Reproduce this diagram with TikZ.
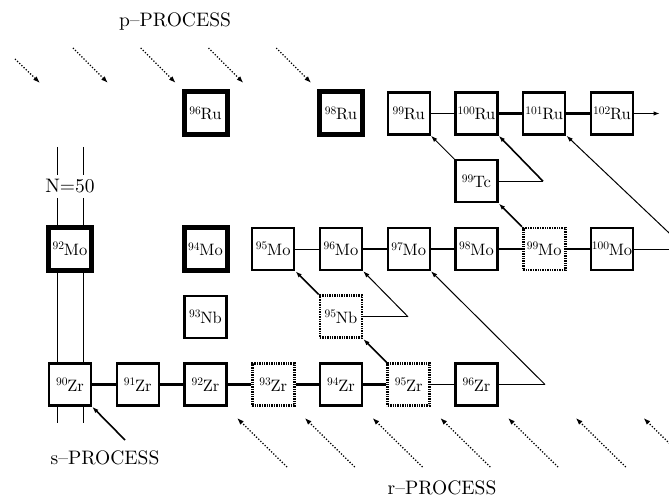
\documentclass[tikz,border=0pt]{standalone}
\usepackage{fontspec}
\setmainfont{lmroman10-regular.otf}
\usetikzlibrary{arrows.meta}
\newcommand\iso[2]{{\fontsize{16.5}{18}\selectfont\raisebox{5.5pt}{\fontsize{11.5}{12}\selectfont #1}\kern-0.3pt#2}}
\begin{document}
\begin{tikzpicture}[x=1pt,y=-1pt,
  box/.style={draw, line width=2.4pt, fill=white, minimum size=42pt, inner sep=0pt},
  stable/.style={box, line width=5pt, minimum size=43pt},
  unst/.style={box, line width=2.6pt, dash pattern=on 1.4pt off 1.0pt},
  thk/.style={line width=2.2pt},
  med/.style={line width=1.6pt},
  thn/.style={line width=1.0pt},
  arr/.style={-{Latex[length=6.5pt,width=4.5pt]}},
  dots/.style={line width=1.3pt, dash pattern=on 1.2pt off 1.8pt, -{Latex[length=7pt,width=5pt]}},
  lbl/.style={font=\fontsize{19.5}{22}\selectfont, inner sep=0pt}]
\useasboundingbox (0,0) rectangle (669,497);
\clip (0,0) rectangle (669,497);

% N=50 lines
\draw[thn] (57,147) -- (57,175) (83,147) -- (83,175) (57,198) -- (57,423) (83,198) -- (83,423);
\node[lbl] (n50) at (70,186) {N=50};

% Zr row
\node[box]  (zr90) at (70,384.5)     {\iso{90}{Zr}};
\node[box]  (zr91) at (137.75,384.5) {\iso{91}{Zr}};
\node[box]  (zr92) at (205.5,384.5)  {\iso{92}{Zr}};
\node[unst] (zr93) at (273.25,384.5) {\iso{93}{Zr}};
\node[box]  (zr94) at (341,384.5)    {\iso{94}{Zr}};
\node[unst] (zr95) at (408.75,384.5) {\iso{95}{Zr}};
\node[box]  (zr96) at (476.5,384.5)  {\iso{96}{Zr}};
% Nb row
\node[box]  (nb93) at (205.5,316.75) {\iso{93}{Nb}};
\node[unst] (nb95) at (341,316.75)   {\iso{95}{Nb}};
% Mo row
\node[stable] (mo92) at (70,249)     {\iso{92}{Mo}};
\node[stable] (mo94) at (205.5,249)  {\iso{94}{Mo}};
\node[box]  (mo95) at (273.25,249)   {\iso{95}{Mo}};
\node[box]  (mo96) at (341,249)      {\iso{96}{Mo}};
\node[box]  (mo97) at (408.75,249)   {\iso{97}{Mo}};
\node[box]  (mo98) at (476.5,249)    {\iso{98}{Mo}};
\node[unst] (mo99) at (544.25,249)   {\iso{99}{Mo}};
\node[box]  (mo100) at (612,249)     {\iso{100}{Mo}};
% Tc
\node[box]  (tc99) at (476.5,181.25) {\iso{99}{Tc}};
% Ru row
\node[stable] (ru96) at (205.5,113.5) {\iso{96}{Ru}};
\node[stable] (ru98) at (341,113.5)   {\iso{98}{Ru}};
\node[box]  (ru99) at (408.75,113.5)  {\iso{99}{Ru}};
\node[box]  (ru100) at (476.5,113.5)  {\iso{100}{Ru}};
\node[box]  (ru101) at (544.25,113.5) {\iso{101}{Ru}};
\node[box]  (ru102) at (612,113.5)    {\iso{102}{Ru}};

% corner coordinates
\coordinate (c1) at (545,384.5);
\coordinate (c2) at (408,316.75);
\coordinate (c3) at (686,249);
\coordinate (c4) at (543,181.25);
\coordinate (c5) at (660,113.5);
\coordinate (sa) at (125,440);

% Zr links
\draw[thk] (zr90) -- (zr91) (zr91) -- (zr92) (zr92) -- (zr93) (zr93) -- (zr94) (zr94) -- (zr95);
\draw[thn] (zr95) -- (zr96);
\draw[thn] (zr96.east) -- (c1);
\draw[thn,arr] (c1) -- (mo97.south east);
\draw[med,arr] (zr95.north west) -- (nb95.south east);
% Nb links
\draw[thn] (nb95.east) -- (c2);
\draw[thn,arr] (c2) -- (mo96.south east);
\draw[med,arr] (nb95.north west) -- (mo95.south east);
% Mo links
\draw[thn] (mo95) -- (mo96);
\draw[med] (mo96) -- (mo97) (mo97) -- (mo98) (mo98) -- (mo99) (mo99) -- (mo100);
\draw[thn] (mo100.east) -- (c3);
\draw[thn,arr] (c3) -- (ru101.south east);
\draw[med,arr] (mo99.north west) -- (tc99.south east);
% Tc links
\draw[thn] (tc99.east) -- (c4);
\draw[med,arr] (c4) -- (ru100.south east);
\draw[thn,arr] (tc99.north west) -- (ru99.south east);
% Ru links
\draw[thn] (ru99) -- (ru100);
\draw[thk] (ru100) -- (ru101) (ru101) -- (ru102);
\draw[med,arr] (ru102.east) -- (c5);

% process labels
\node[lbl, anchor=base] (pp) at (175,27) {p–PROCESS};
\node[lbl, anchor=base] (sp) at (105,464) {s–PROCESS};
\node[lbl, anchor=base] (rp) at (442,494) {r–PROCESS};
\draw[med,arr] (sa) -- (zr90.south east);

% dotted process arrows
\draw[dots] (15,59) -- (40,83);
\foreach \i in {0,...,3} \draw[dots] ({73+67.75*\i},48) -- ({108+67.75*\i},83);
\foreach \i in {0,...,6} \draw[dots] ({287+67.75*\i},467) -- ({237+67.75*\i},418);
\end{tikzpicture}
\end{document}
